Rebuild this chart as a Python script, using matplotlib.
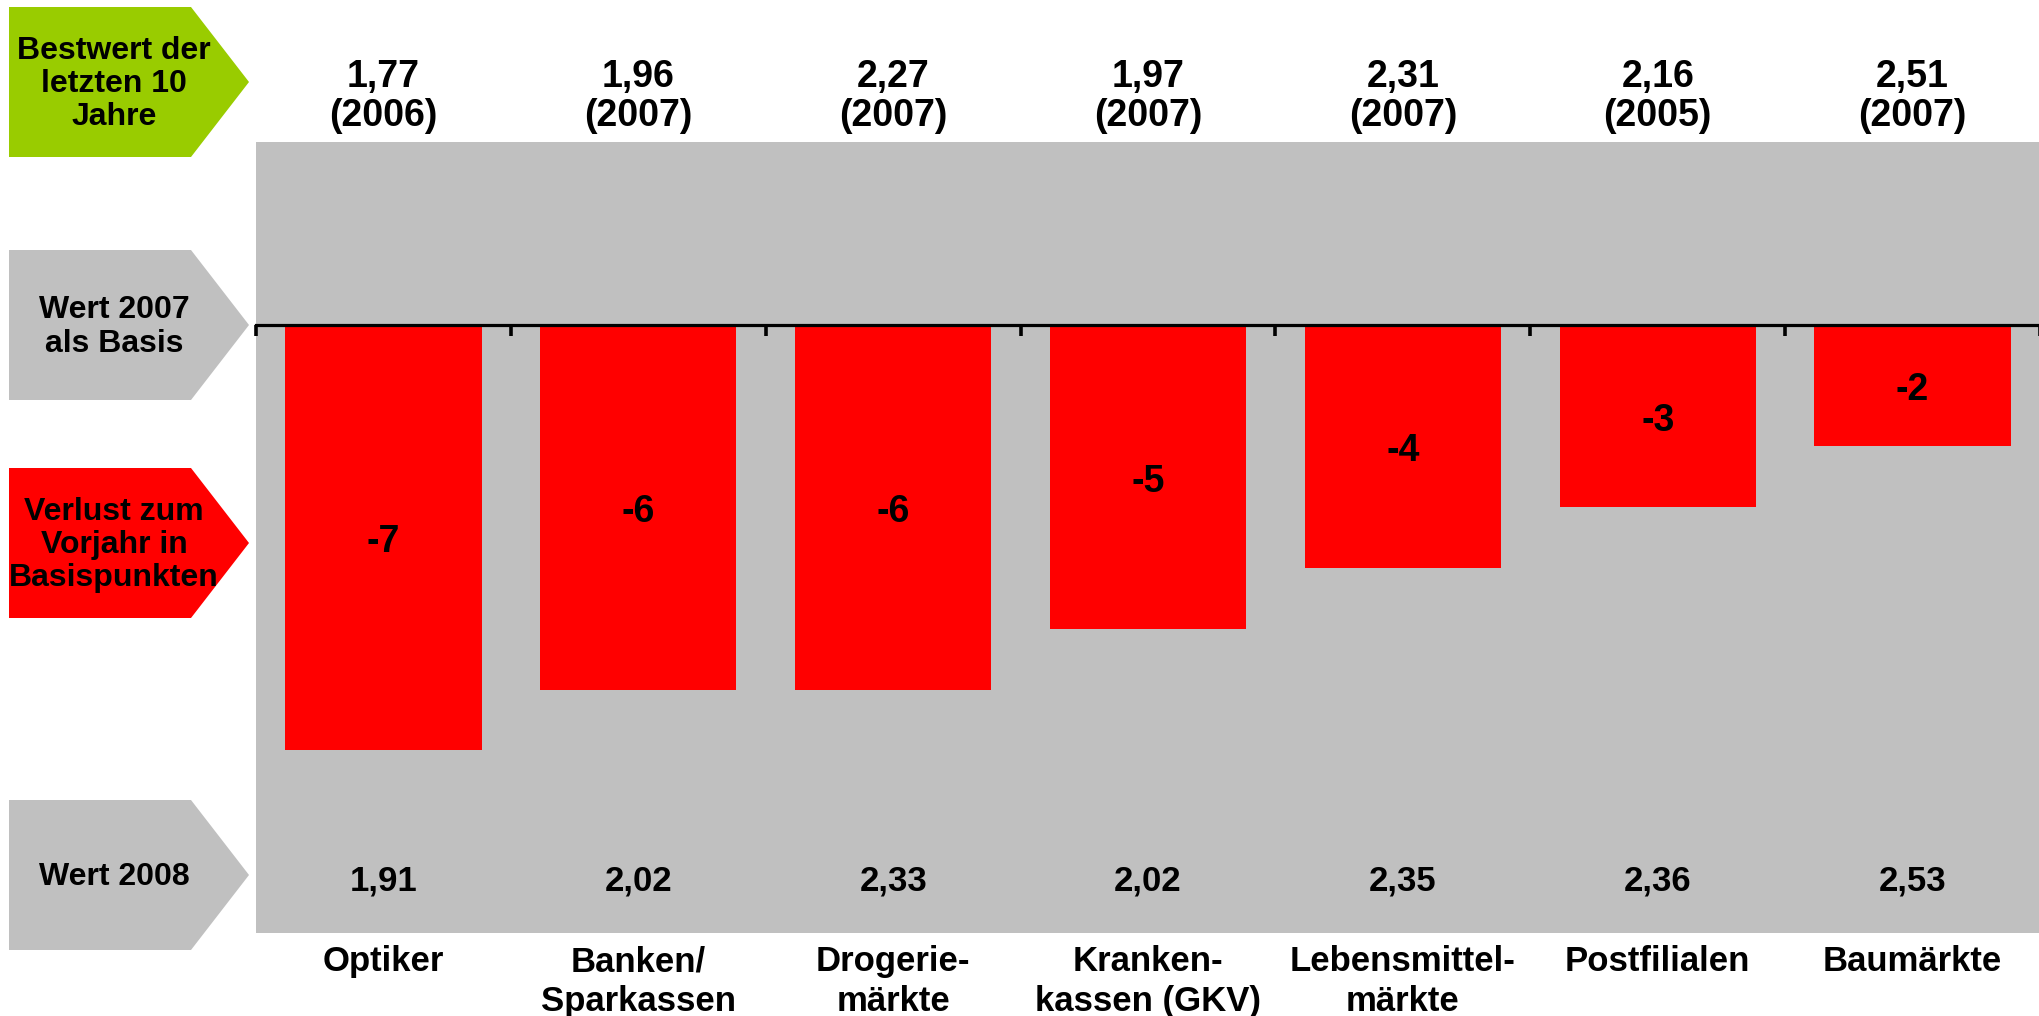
import matplotlib
matplotlib.use("Agg")
import matplotlib.pyplot as plt
from matplotlib.patches import Polygon
import numpy as np

plt.rcParams['font.family'] = ['Liberation Sans', 'DejaVu Sans']
plt.rcParams['font.weight'] = 'bold'

categories = ["Optiker", "Banken/\nSparkassen", "Drogerie-\nmärkte", "Kranken-\nkassen (GKV)",
              "Lebensmittel-\nmärkte", "Postfilialen", "Baumärkte"]
verlust = [-7, -6, -6, -5, -4, -3, -2]
bestwert = ["1,77", "1,96", "2,27", "1,97", "2,31", "2,16", "2,51"]
bestwert_jahr = ["2006", "2007", "2007", "2007", "2007", "2005", "2007"]
wert_2008 = ["1,91", "2,02", "2,33", "2,02", "2,35", "2,36", "2,53"]
row_labels = ["Bestwert der\nletzten 10\nJahre", "Wert 2007\nals Basis",
              "Verlust zum\nVorjahr in\nBasispunkten", "Wert 2008"]

GRAY = "#C0C0C0"
RED = "#FF0000"
GREEN = "#99CC00"

W, H = 2040, 1016
fig = plt.figure(figsize=(W / 100, H / 100), dpi=100)

# overlay for left-side arrow labels (pixel coordinates)
ov = fig.add_axes([0, 0, 1, 1])
ov.set_xlim(0, W)
ov.set_ylim(H, 0)
ov.axis("off")

arrow_specs = [(7, 157, GREEN), (250, 400, GRAY), (468, 618, RED), (800, 950, GRAY)]
x0, xr, xt = 9, 191, 249
for (y0, y1, col), lab in zip(arrow_specs, row_labels):
    ym = (y0 + y1) / 2
    poly = Polygon([(x0, y0), (xr, y0), (xt, ym), (xr, y1), (x0, y1)],
                   closed=True, facecolor=col, edgecolor="none")
    ov.add_patch(poly)
    ov.text(114, ym + 2, lab, ha="center", va="center", fontsize=23,
            fontweight="bold", color="black", linespacing=1.15)

# main axes
left = 256 / W
bottom = (H - 933) / H
top = (H - 142) / H
ax = fig.add_axes([left, bottom, 1 - left, top - bottom])
ax.set_facecolor(GRAY)

x = np.arange(len(categories))
ax.bar(x, verlust, width=0.77, color=RED, zorder=1)
ax.set_xlim(-0.5, len(categories) - 0.5)
ax.set_ylim(-10, 3)

for s in ["top", "left", "right"]:
    ax.spines[s].set_visible(False)
ax.spines["bottom"].set_position(("data", 0))
ax.spines["bottom"].set_linewidth(2.3)
ax.spines["bottom"].set_zorder(3)
ax.set_xticks(np.arange(len(categories) + 1) - 0.5)
ax.tick_params(axis="x", direction="out", length=8, width=2.6, labelbottom=False)
ax.set_yticks([])

for i in range(len(categories)):
    ax.text(x[i], verlust[i] / 2 - 0.08, f"{verlust[i]}", ha="center", va="center",
            fontsize=27, fontweight="bold", color="black")
    ax.text(x[i], 3.75, f"{bestwert[i]}\n({bestwert_jahr[i]})", ha="center", va="center",
            fontsize=27, fontweight="bold", color="black", clip_on=False, linespacing=1.1)
    ax.text(x[i], -9.14, wert_2008[i], ha="center", va="center",
            fontsize=25, fontweight="bold", color="black")
    ax.text(x[i], -10.2, categories[i], ha="center", va="top",
            fontsize=25, fontweight="bold", color="black", clip_on=False, linespacing=1.25)

fig.savefig("out.png", dpi=100)
